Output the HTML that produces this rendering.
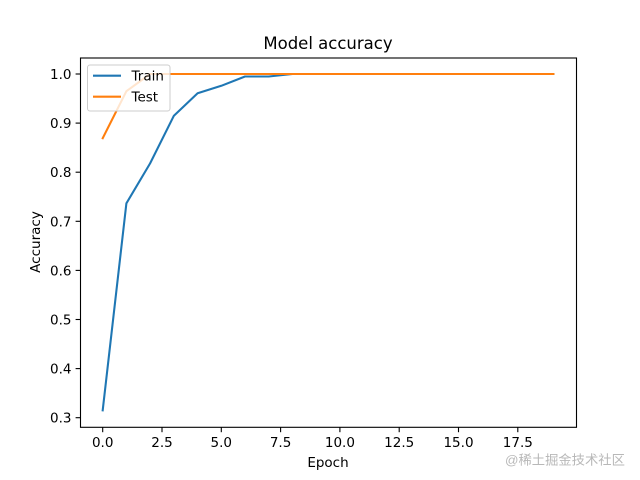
<!DOCTYPE html>
<html><head><meta charset="utf-8"><style>
html,body{margin:0;padding:0;background:#fff;}
svg{display:block;}
text{font-family:"DejaVu Sans","Liberation Sans",sans-serif;fill:#000;}
</style></head><body>
<svg width="640" height="480" viewBox="0 0 640 480" xmlns="http://www.w3.org/2000/svg">
<rect width="640" height="480" fill="#fff"/>
<!-- title -->
<text x="328" y="49" font-size="16.5" text-anchor="middle">Model accuracy</text>
<!-- series -->
<polyline fill="none" stroke="#1f77b4" stroke-width="2.08" stroke-linejoin="round" stroke-linecap="square"
 points="102.7,410.3 126.4,203.3 150.1,163.4 173.9,115.7 197.6,93.2 221.3,85.8 245.0,76.5 268.7,76.5 292.5,74 316.2,74 339.9,74 363.6,74 387.3,74 411.1,74 434.8,74 458.5,74 482.2,74 505.9,74 529.7,74 553.4,74"/>
<polyline fill="none" stroke="#ff7f0e" stroke-width="2.08" stroke-linejoin="round" stroke-linecap="square"
 points="102.7,138.2 126.4,91.2 150.1,74 173.9,74 197.6,74 221.3,74 245.0,74 268.7,74 292.5,74 316.2,74 339.9,74 363.6,74 387.3,74 411.1,74 434.8,74 458.5,74 482.2,74 505.9,74 529.7,74 553.4,74"/>
<!-- axes frame -->
<rect x="80.5" y="58" width="496" height="369.3" fill="none" stroke="#000" stroke-width="1.1"/>
<!-- x ticks -->
<g stroke="#000" stroke-width="1.1">
<line x1="102.7" y1="427.3" x2="102.7" y2="432.2"/>
<line x1="162" y1="427.3" x2="162" y2="432.2"/>
<line x1="221.3" y1="427.3" x2="221.3" y2="432.2"/>
<line x1="280.6" y1="427.3" x2="280.6" y2="432.2"/>
<line x1="339.9" y1="427.3" x2="339.9" y2="432.2"/>
<line x1="399.2" y1="427.3" x2="399.2" y2="432.2"/>
<line x1="458.5" y1="427.3" x2="458.5" y2="432.2"/>
<line x1="517.8" y1="427.3" x2="517.8" y2="432.2"/>
</g>
<g font-size="13.5" text-anchor="middle">
<text x="102.7" y="447">0.0</text>
<text x="162" y="447">2.5</text>
<text x="221.3" y="447">5.0</text>
<text x="280.6" y="447">7.5</text>
<text x="339.9" y="447">10.0</text>
<text x="399.2" y="447">12.5</text>
<text x="458.5" y="447">15.0</text>
<text x="517.8" y="447">17.5</text>
</g>
<!-- y ticks -->
<g stroke="#000" stroke-width="1.1">
<line x1="75.6" y1="74" x2="80.5" y2="74"/>
<line x1="75.6" y1="123.1" x2="80.5" y2="123.1"/>
<line x1="75.6" y1="172.2" x2="80.5" y2="172.2"/>
<line x1="75.6" y1="221.3" x2="80.5" y2="221.3"/>
<line x1="75.6" y1="270.4" x2="80.5" y2="270.4"/>
<line x1="75.6" y1="319.5" x2="80.5" y2="319.5"/>
<line x1="75.6" y1="368.6" x2="80.5" y2="368.6"/>
<line x1="75.6" y1="417.7" x2="80.5" y2="417.7"/>
</g>
<g font-size="13.5" text-anchor="end">
<text x="71.5" y="79">1.0</text>
<text x="71.5" y="128.1">0.9</text>
<text x="71.5" y="177.2">0.8</text>
<text x="71.5" y="226.3">0.7</text>
<text x="71.5" y="275.4">0.6</text>
<text x="71.5" y="324.5">0.5</text>
<text x="71.5" y="373.6">0.4</text>
<text x="71.5" y="422.7">0.3</text>
</g>
<!-- axis labels -->
<text x="328" y="467" font-size="13.5" text-anchor="middle">Epoch</text>
<text transform="translate(40,242) rotate(-90)" font-size="13.5" text-anchor="middle">Accuracy</text>
<!-- legend -->
<rect x="87.5" y="65" width="82.5" height="46" rx="2.5" ry="2.5" fill="#fff" fill-opacity="0.8" stroke="#cccccc" stroke-width="1"/>
<line x1="93" y1="75.7" x2="121" y2="75.7" stroke="#1f77b4" stroke-width="2.08"/>
<line x1="93" y1="96.7" x2="121" y2="96.7" stroke="#ff7f0e" stroke-width="2.08"/>
<text x="131.5" y="80.7" font-size="13.5">Train</text>
<text x="131.5" y="101.7" font-size="13.5">Test</text>
<!-- watermark -->
<text x="505" y="464.5" font-size="13.3" style="font-family:'Liberation Sans','Noto Sans CJK SC',sans-serif;fill:#b8b8b8">@稀土掘金技术社区</text>
</svg>
</body></html>
